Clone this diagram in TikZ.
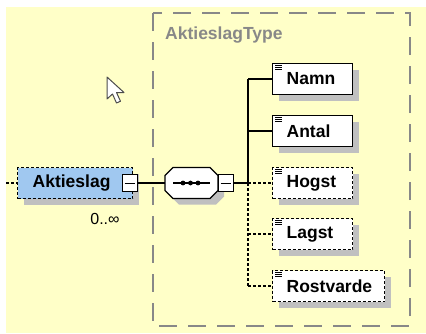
\documentclass[tikz,border=0pt]{standalone}
\usepackage{fontspec}
\setmainfont{Liberation Sans}
\usetikzlibrary{shadows}
\definecolor{bgyellow}{RGB}{255,255,200}
\definecolor{boxblue}{RGB}{160,200,240}
\definecolor{shgray}{RGB}{192,192,192}
\definecolor{grpgray}{RGB}{136,136,136}
\tikzset{
 shd/.style={drop shadow={shadow xshift=6pt,shadow yshift=-6pt,fill=shgray,opacity=1}},
 lbl/.style={font=\fontsize{17.5}{19}\selectfont\bfseries},
 elem/.style={draw=black, line width=1.3pt, fill=white, minimum height=31pt, inner xsep=14pt, inner ysep=0pt, text width=52pt, align=left, anchor=west, lbl, shd},
 opt/.style={elem, dash pattern=on 3pt off 2pt},
 minusbox/.style={draw=black, line width=1pt, fill=white, minimum width=15pt, minimum height=17pt, inner sep=0pt},
 conn/.style={line width=1.3pt},
 optconn/.style={line width=1.3pt, dash pattern=on 3pt off 2pt},
 iconline/.style={line width=0.6pt},
}
\begin{document}
\begin{tikzpicture}[x=1pt,y=-1pt]
\useasboundingbox (0,0) rectangle (426,333);
\fill[bgyellow] (6,7) rectangle (426,333);
% group box
\draw[grpgray, line width=1.5pt, dash pattern=on 18pt off 11pt] (153,13) rectangle (410,326);
\node[grpgray, anchor=west, lbl, inner sep=0pt] (typ) at (165,35) {AktieslagType};
% cursor
\draw[fill=white, draw=gray!60!black, line width=1pt, line join=round]
  (107,77) -- (107,99) -- (112.5,94) -- (116.5,103) -- (120.5,101.2) -- (116.5,92.5) -- (124,92.5) -- cycle;
% Aktieslag element
\node[draw=black, line width=1.3pt, dash pattern=on 3pt off 2pt, fill=boxblue, minimum height=31pt,
      inner xsep=15pt, inner ysep=0pt, text width=85pt, align=left, anchor=west, lbl, shd] (ak) at (17,183) {Aktieslag};
\coordinate (stub) at (6,183);
\draw[optconn] (stub) -- (ak.west);
\node[minusbox] (akm) at (129.5,183) {};
\draw[line width=1pt] ([xshift=3pt]akm.west) -- ([xshift=-3pt]akm.east);
\node[font=\fontsize{16}{18}\selectfont, inner sep=0pt] (card) at (105,219) {0..∞};
% sequence compositor
\node[minimum width=53pt, minimum height=31pt, inner sep=0pt] (seq) at (191.5,183) {};
\fill[shgray, shift={(6,6)}] (173,167.5) -- (210,167.5) -- (218,175.5) -- (218,190.5) -- (210,198.5) -- (173,198.5) -- (165,190.5) -- (165,175.5) -- cycle;
\draw[fill=white, line width=1.3pt] (173,167.5) -- (210,167.5) -- (218,175.5) -- (218,190.5) -- (210,198.5) -- (173,198.5) -- (165,190.5) -- (165,175.5) -- cycle;
\draw[line width=1.3pt] (173,183) -- (210,183);
\foreach \dx in {183,190.5,198} \fill (\dx,183) circle (2.4pt);
\node[minusbox] (seqm) at (225.5,183) {};
\draw[line width=1pt] ([xshift=3pt]seqm.west) -- ([xshift=-3pt]seqm.east);
\draw[conn] (akm.east) -- (seq.west);
% children
\node[elem] (namn) at (272,79) {Namn};
\node[elem] (antal) at (272,131) {Antal};
\node[opt] (hogst) at (272,183) {Hogst};
\node[opt] (lagst) at (272,234) {Lagst};
\node[opt, text width=84pt] (rost) at (272,286) {Rostvarde};
\foreach \n in {namn,antal,hogst,lagst,rost}
  \foreach \d in {2.5,4.5,6.5}
    \draw[iconline] ([xshift=3pt,yshift=-\d pt]\n.north west) -- ++(7,0);
% spine
\coordinate (j1) at (248,79);
\coordinate (j2) at (248,131);
\coordinate (j3) at (248,183);
\coordinate (j4) at (248,234);
\coordinate (j5) at (248,286);
\draw[conn] (seqm.east) -- (j3);
\draw[conn] (j1) -- (j3);
\draw[optconn] (j3) -- (j5);
\draw[conn] (j1) -- (namn.west);
\draw[conn] (j2) -- (antal.west);
\draw[optconn] (j3) -- (hogst.west);
\draw[optconn] (j4) -- (lagst.west);
\draw[optconn] (j5) -- (rost.west);
\end{tikzpicture}
\end{document}
